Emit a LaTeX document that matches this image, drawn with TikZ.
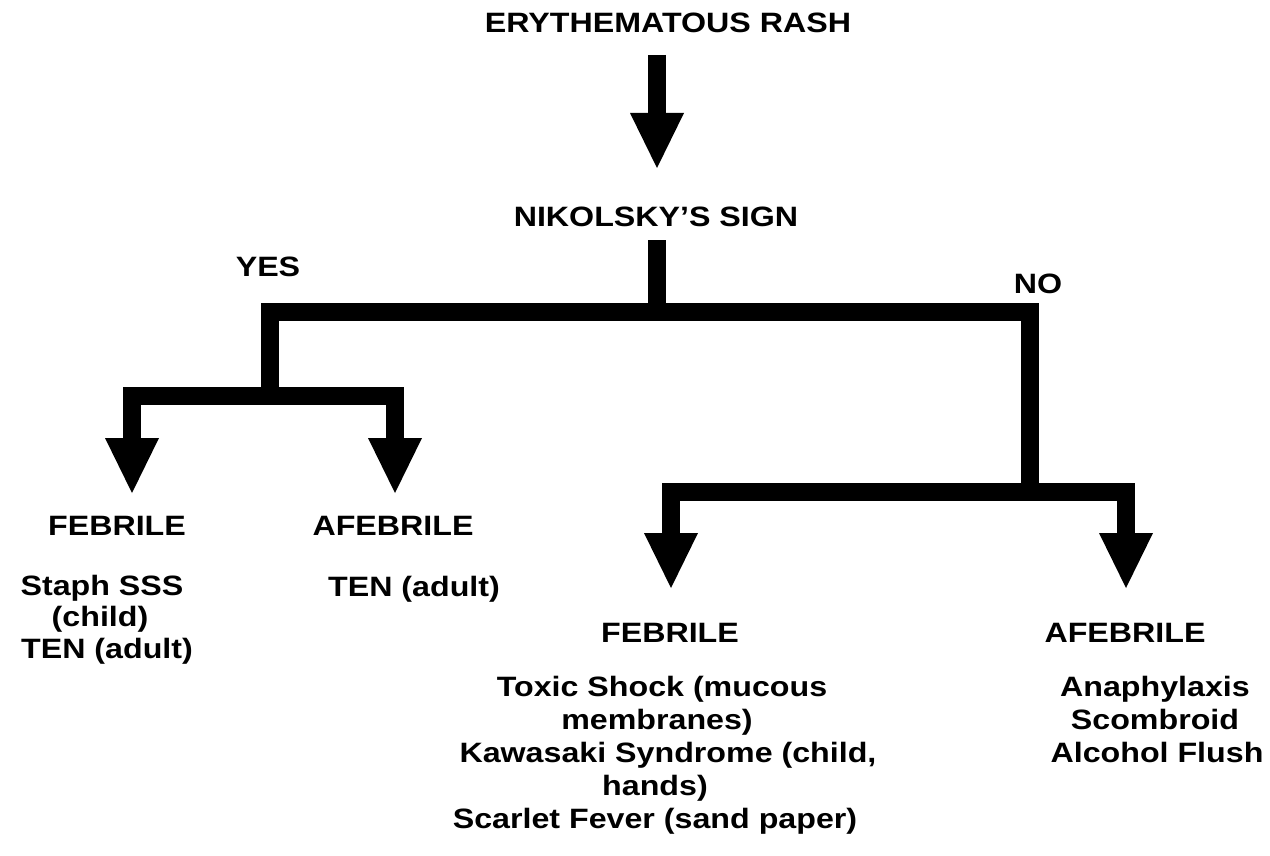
\documentclass[tikz,border=0pt]{standalone}
\usepackage{fontspec}
\newfontfamily\lab{Liberation Sans}[FakeStretch=1.15]
\usetikzlibrary{arrows.meta}
\begin{document}
\begin{tikzpicture}[x=1pt,y=-1pt,
  lbl/.style={anchor=base,inner sep=0pt,font=\lab\bfseries\fontsize{28}{33}\selectfont},
  bar/.style={line width=18pt,line join=miter,line cap=butt},
  arr/.style={bar,-{Triangle[length=55pt,width=54pt,line width=0pt]}}]
\useasboundingbox[fill=white] (0,0) rectangle (1270,856);
% labels
\node[lbl] (rash) at (668,33) {ERYTHEMATOUS RASH};
\node[lbl] (nik) at (656,226) {NIKOLSKY’S SIGN};
\node[lbl] (yes) at (268,276) {YES};
\node[lbl] (no) at (1038,293) {NO};
\node[lbl] (febL) at (117,535) {FEBRILE};
\node[lbl] (afebL) at (393,535) {AFEBRILE};
\node[lbl] (staph) at (102,595) {Staph SSS};
\node[lbl] (child) at (100,626) {(child)};
\node[lbl] (tenL) at (107,658) {TEN (adult)};
\node[lbl] (tenM) at (414,596) {TEN (adult)};
\node[lbl] (febC) at (670,642) {FEBRILE};
\node[lbl] (toxic) at (662,696) {Toxic Shock (mucous};
\node[lbl] (memb) at (657,729) {membranes)};
\node[lbl] (kawa) at (668,762) {Kawasaki Syndrome (child,};
\node[lbl] (hands) at (655,795) {hands)};
\node[lbl] (scar) at (655,828) {Scarlet Fever (sand paper)};
\node[lbl] (afebR) at (1125,642) {AFEBRILE};
\node[lbl] (ana) at (1155,696) {Anaphylaxis};
\node[lbl] (scom) at (1155,729) {Scombroid};
\node[lbl] (alc) at (1157,762) {Alcohol Flush};
% coordinates
\coordinate (t0) at (657,55);
\coordinate (t1) at (657,168);
\coordinate (s0) at (657,240);
\coordinate (s1) at (657,312);
\coordinate (jl) at (270,396);
\coordinate (jr) at (1030,492);
\coordinate (tipA) at (132,493);
\coordinate (tipB) at (395,493);
\coordinate (tipC) at (671,588);
\coordinate (tipD) at (1126,588);
% connectors
\draw[arr] (t0) -- (t1);
\draw[bar] (s0) -- (s1);
\draw[bar] (jl) |- (s1) -| (jr);
\draw[arr] (jl) -| (tipA);
\draw[arr] (jl) -| (tipB);
\draw[arr] (jr) -| (tipC);
\draw[arr] (jr) -| (tipD);
\end{tikzpicture}
\end{document}
